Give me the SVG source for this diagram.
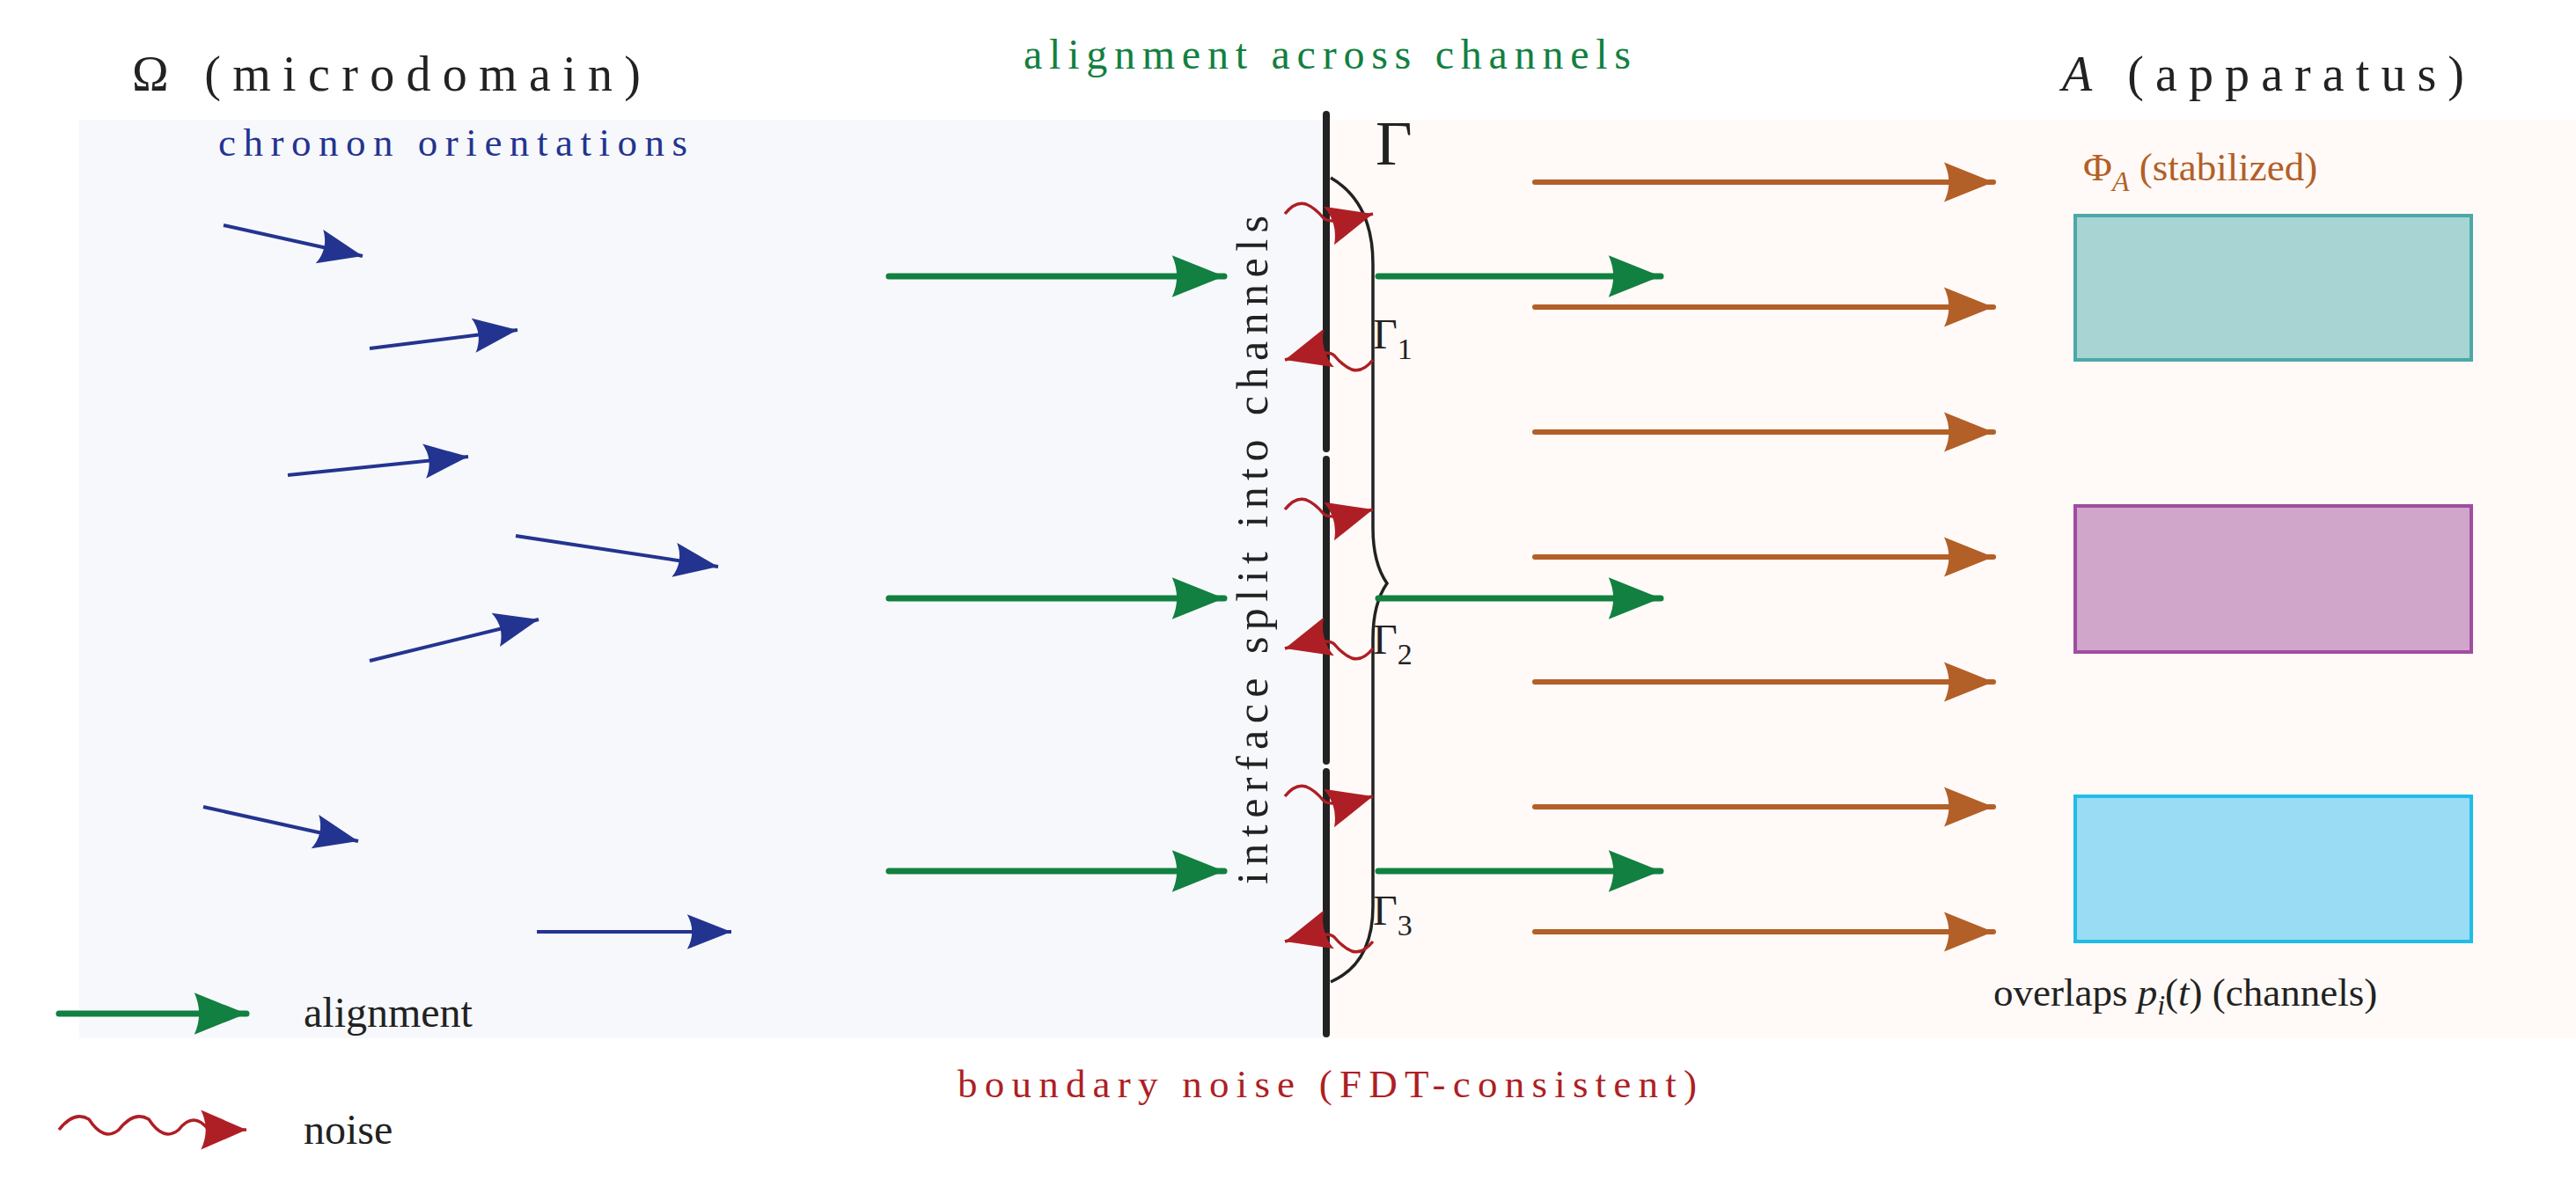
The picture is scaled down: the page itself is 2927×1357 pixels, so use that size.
<svg xmlns="http://www.w3.org/2000/svg" width="2927" height="1357" viewBox="0 0 2927 1357">
<style>
.t{font-family:"Liberation Serif","DejaVu Serif",serif}
.bl{stroke:#233490;stroke-width:4;fill:none}
.gr{stroke:#118040;stroke-width:7;fill:none;stroke-linecap:round}
.or{stroke:#b35f28;stroke-width:6;fill:none;stroke-linecap:round}
.nz{stroke:#ae1f25;stroke-width:3.5;fill:none}
</style>
<defs>
<marker id="hb" markerUnits="userSpaceOnUse" markerWidth="60" markerHeight="60" viewBox="-50 -25 55 50" refX="0" refY="0" orient="auto"><path d="M0,0 L-46,-18 Q-36,0 -46,18 Z" fill="#233490"/></marker>
<marker id="hg" markerUnits="userSpaceOnUse" markerWidth="70" markerHeight="70" viewBox="-60 -30 65 60" refX="0" refY="0" orient="auto"><path d="M0,0 L-55,-22 Q-45,0 -55,22 Z" fill="#118040"/></marker>
<marker id="ho" markerUnits="userSpaceOnUse" markerWidth="70" markerHeight="70" viewBox="-60 -30 65 60" refX="0" refY="0" orient="auto"><path d="M0,0 L-52,-21 Q-42,0 -52,21 Z" fill="#b35f28"/></marker>
<marker id="hr" markerUnits="userSpaceOnUse" markerWidth="70" markerHeight="70" viewBox="-60 -30 65 60" refX="0" refY="0" orient="auto"><path d="M0,0 L-48,-21 Q-38,0 -48,21 Z" fill="#ae1f25"/></marker>
</defs>
<rect x="90" y="136" width="1416" height="1044" fill="#f7f8fb"/>
<rect x="1506" y="136" width="1421" height="1044" fill="#fffaf7"/>

<g id="titles">
<text class="t" x="150" y="103" font-size="56" fill="#222" textLength="578">Ω (microdomain)</text>
<text class="t" x="1508" y="78" font-size="48" fill="#118040" text-anchor="middle" textLength="690">alignment across channels</text>
<text class="t" x="2343" y="103" font-size="56" fill="#222" textLength="457"><tspan font-style="italic">A</tspan> (apparatus)</text>
<text class="t" x="248" y="177" font-size="45" fill="#233490" textLength="533">chronon orientations</text>
<text class="t" x="2367" y="205" font-size="45" fill="#b35f28">Φ<tspan font-size="32" font-style="italic" dy="12">A</tspan><tspan dy="-12"> (stabilized)</tspan></text>
<text class="t" x="2265" y="1143" font-size="45" fill="#222">overlaps <tspan font-style="italic">p</tspan><tspan font-size="32" font-style="italic" dy="10">i</tspan><tspan dy="-10">(</tspan><tspan font-style="italic">t</tspan>) (channels)</text>
<text class="t" x="1508" y="1247" font-size="45" fill="#ae1f25" text-anchor="middle" textLength="840">boundary noise (FDT-consistent)</text>
<text class="t" transform="translate(1440,625) rotate(-90)" font-size="50" fill="#222" text-anchor="middle" textLength="760">interface split into channels</text>
</g>

<g id="boxes">
<rect id="box1" x="2358" y="245" width="450" height="164" fill="#a8d4d3" stroke="#4aa9a8" stroke-width="4"/>
<rect id="box2" x="2358" y="575" width="450" height="166" fill="#d0a6cb" stroke="#a04ca0" stroke-width="4"/>
<rect id="box3" x="2358" y="905" width="450" height="165" fill="#9bdcf5" stroke="#1fbde8" stroke-width="4"/>
</g>

<g id="interface">
<path d="M1507,130 V510 M1507,522 V865 M1507,877 V1175" stroke="#222" stroke-width="8" stroke-linecap="round"/>
<path d="M1512,202 Q1560,230 1560,300 V600 Q1560,640 1576,663 Q1560,686 1560,726 V1030 Q1560,1095 1512,1116" stroke="#222" stroke-width="3.5" fill="none"/>
<text class="t" x="1563" y="187" font-size="72" fill="#222">Γ</text>
<text class="t" x="1560" y="396" font-size="48" fill="#222">Γ<tspan font-size="34" dy="12">1</tspan></text>
<text class="t" x="1560" y="743" font-size="48" fill="#222">Γ<tspan font-size="34" dy="12">2</tspan></text>
<text class="t" x="1560" y="1051" font-size="48" fill="#222">Γ<tspan font-size="34" dy="12">3</tspan></text>
</g>

<g id="connectors">
<path class="bl" d="M254,256 L412,291" marker-end="url(#hb)"/>
<path class="bl" d="M420,396 L588,375" marker-end="url(#hb)"/>
<path class="bl" d="M327,540 L532,519" marker-end="url(#hb)"/>
<path class="bl" d="M586,609 L816,644" marker-end="url(#hb)"/>
<path class="bl" d="M420,751 L612,704" marker-end="url(#hb)"/>
<path class="bl" d="M231,917 L407,956" marker-end="url(#hb)"/>
<path class="bl" d="M610,1059 L831,1059" marker-end="url(#hb)"/>

<path class="gr" d="M1010,314 H1391" marker-end="url(#hg)"/>
<path class="gr" d="M1010,680 H1391" marker-end="url(#hg)"/>
<path class="gr" d="M1010,990 H1391" marker-end="url(#hg)"/>
<path class="gr" d="M1566,314 H1887" marker-end="url(#hg)"/>
<path class="gr" d="M1566,680 H1887" marker-end="url(#hg)"/>
<path class="gr" d="M1566,990 H1887" marker-end="url(#hg)"/>

<path class="or" d="M1744,207 H2265" marker-end="url(#ho)"/>
<path class="or" d="M1744,349 H2265" marker-end="url(#ho)"/>
<path class="or" d="M1744,491 H2265" marker-end="url(#ho)"/>
<path class="or" d="M1744,633 H2265" marker-end="url(#ho)"/>
<path class="or" d="M1744,775 H2265" marker-end="url(#ho)"/>
<path class="or" d="M1744,917 H2265" marker-end="url(#ho)"/>
<path class="or" d="M1744,1059 H2265" marker-end="url(#ho)"/>

<path class="nz" d="M1460,243 Q1472,228 1484,232 Q1494,236 1504,248 Q1512,256 1560,243" marker-end="url(#hr)"/>
<path class="nz" d="M1460,579 Q1472,564 1484,568 Q1494,572 1504,584 Q1512,592 1560,579" marker-end="url(#hr)"/>
<path class="nz" d="M1460,905 Q1472,890 1484,894 Q1494,898 1504,910 Q1512,918 1560,905" marker-end="url(#hr)"/>
<path class="nz" d="M1560,409 Q1548,424 1536,420 Q1526,416 1516,404 Q1508,396 1460,409" marker-end="url(#hr)"/>
<path class="nz" d="M1560,737 Q1548,752 1536,748 Q1526,744 1516,732 Q1508,724 1460,737" marker-end="url(#hr)"/>
<path class="nz" d="M1560,1070 Q1548,1085 1536,1081 Q1526,1077 1516,1065 Q1508,1057 1460,1070" marker-end="url(#hr)"/>
</g>

<g id="legend">
<path class="gr" d="M67,1152 H280" marker-end="url(#hg)"/>
<text class="t" x="345" y="1167" font-size="48" fill="#222">alignment</text>
<path class="nz" d="M67,1284 Q84,1262 101,1272 Q118,1298 135,1284 Q152,1262 169,1272 Q186,1298 203,1284 Q220,1262 237,1284 L280,1284" marker-end="url(#hr)"/>
<text class="t" x="345" y="1300" font-size="48" fill="#222">noise</text>
</g>
</svg>
